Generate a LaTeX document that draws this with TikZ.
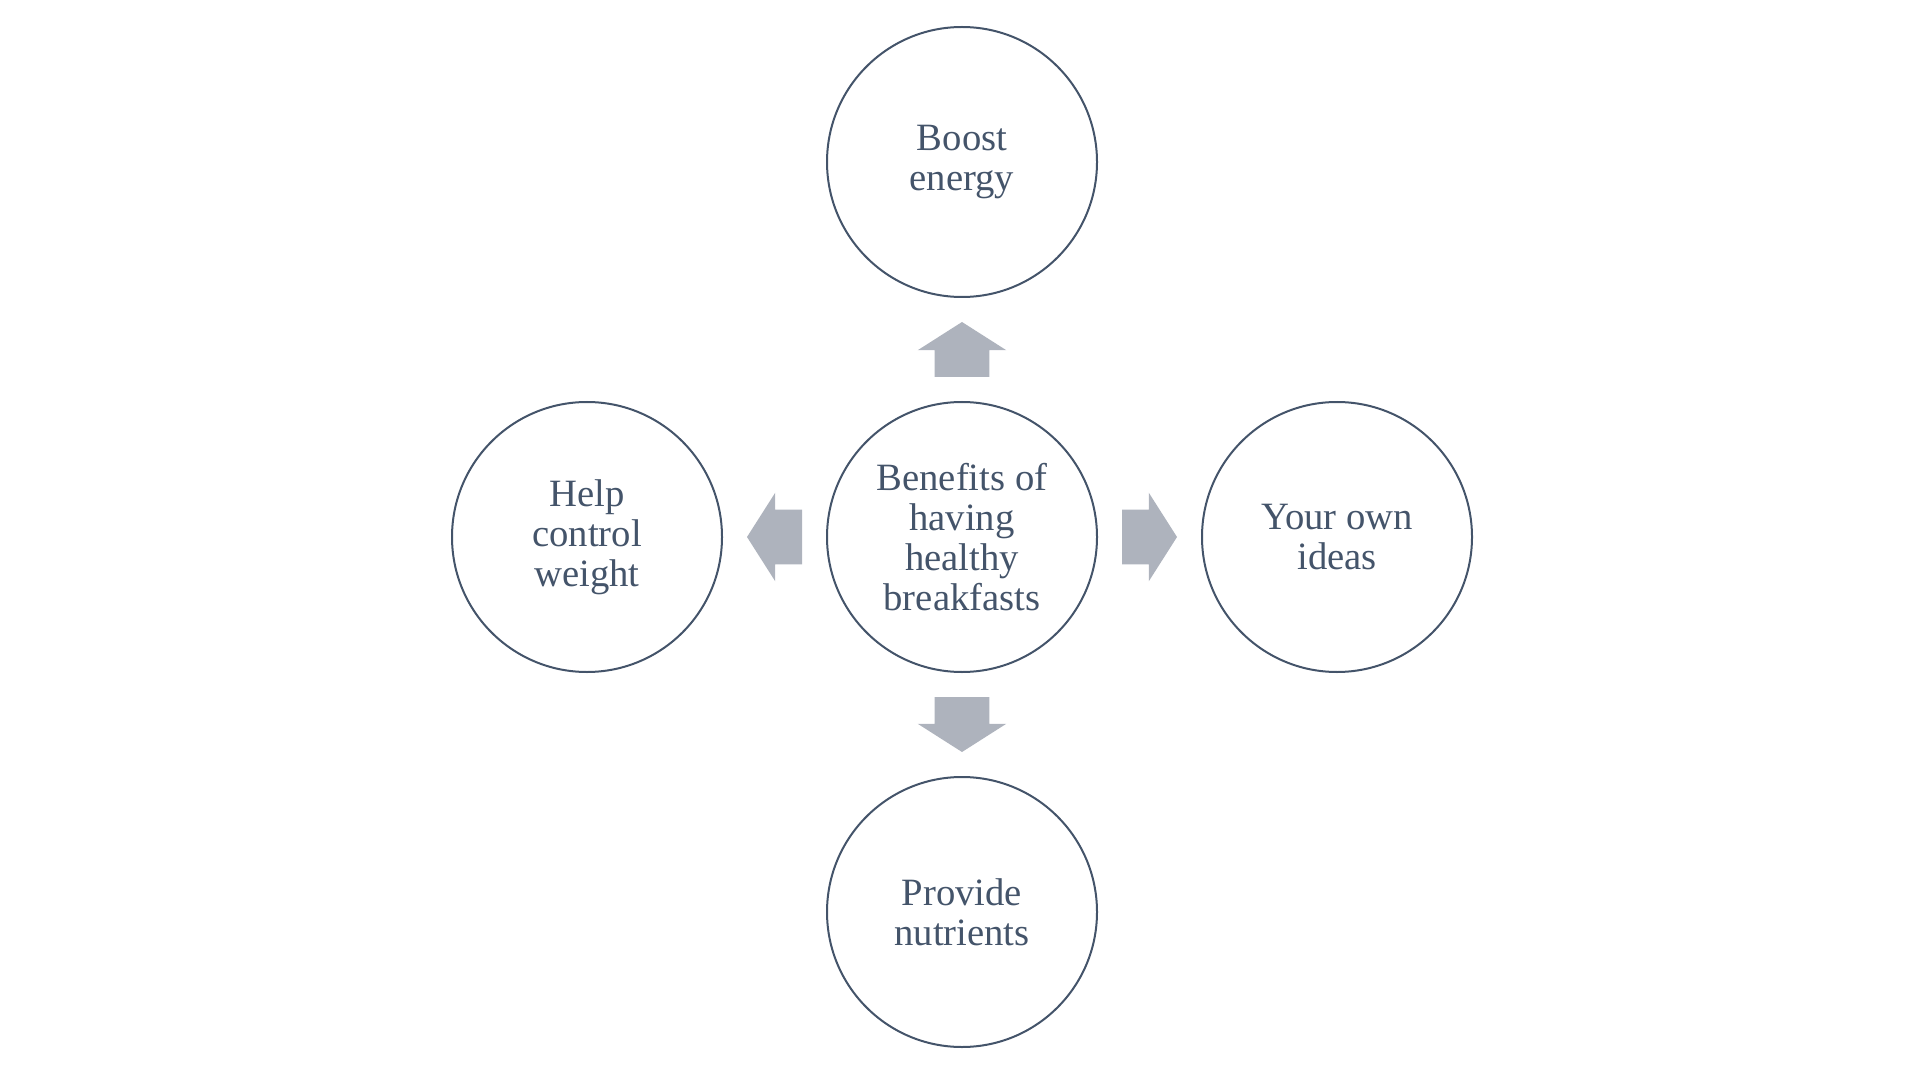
\documentclass[tikz,border=0pt]{standalone}
\usepackage{fontspec}
\setmainfont{Liberation Serif}
\usetikzlibrary{positioning,calc,shapes.arrows}

\definecolor{ringblue}{RGB}{68,84,106}
\definecolor{arrowgrey}{RGB}{174,179,189}

\tikzset{
  bubble/.style={circle, draw=ringblue, line width=1.5pt, text=ringblue,
    minimum size=202.5pt, inner sep=0pt, outer sep=0pt, align=center,
    font=\fontsize{29}{30}\selectfont},
  blockarrow/.style={single arrow, fill=arrowgrey, draw=none, anchor=tail,
    inner xsep=0pt, inner ysep=20.25pt, outer sep=0pt, minimum height=41.25pt,
    single arrow head extend=12.75pt, single arrow tip angle=115}
}

\begin{document}
\begin{tikzpicture}[x=0.75pt,y=0.75pt,yscale=-1,xscale=1,node distance=78.75pt]
\useasboundingbox (0,0) rectangle (1920,1080);
\node [bubble] (hub) at (962,537) {Benefits of\\having\\healthy\\breakfasts};
\node [bubble, above=of hub] (boost) {Boost\\energy};
\node [bubble, below=of hub] (nutrients) {Provide\\nutrients};
\node [bubble, left=of hub] (weight) {Help\\control\\weight};
\node [bubble, right=of hub] (ideas) {Your own\\ideas};
% arrows between the hub and the outer circles, tails half a length from the middle
\node [blockarrow, rotate=90] (toBoost) at ($(hub.north)!0.5!(boost.south)!20.625pt!(hub.north)$) {};
\node [blockarrow, rotate=-90] (toNutrients) at ($(hub.south)!0.5!(nutrients.north)!20.625pt!(hub.south)$) {};
\node [blockarrow, rotate=180] (toWeight) at ($(hub.west)!0.5!(weight.east)!20.625pt!(hub.west)$) {};
\node [blockarrow] (toIdeas) at ($(hub.east)!0.5!(ideas.west)!20.625pt!(hub.east)$) {};
\end{tikzpicture}
\end{document}
